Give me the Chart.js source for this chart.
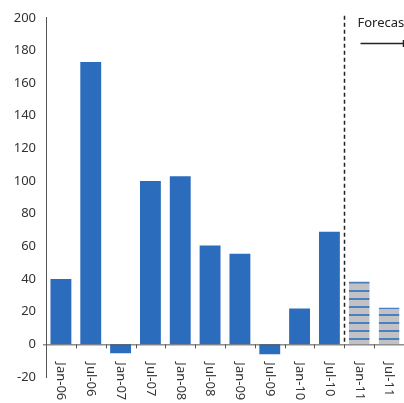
<!DOCTYPE html>
<html>
<head>
<meta charset="utf-8">
<script src="https://cdn.jsdelivr.net/npm/chart.js@4.4.1/dist/chart.umd.min.js"></script>
<style>
  html, body { margin: 0; padding: 0; background: #fff; }
  #wrap { width: 404px; height: 403px; }
</style>
</head>
<body>
<div id="wrap"><canvas id="chart" width="404" height="403"></canvas></div>
<script>
// Half-yearly values, last two are forecasts
var periods = ['Jan-06', 'Jul-06', 'Jan-07', 'Jul-07', 'Jan-08', 'Jul-08', 'Jan-09', 'Jul-09', 'Jan-10', 'Jul-10', 'Jan-11', 'Jul-11'];
var values = [40, 173, -5.5, 100, 103, 60.5, 55.5, -6, 22, 69, 38.5, 22.5];
var forecastStart = 10; // index of the first forecast period
var yTicks = [200, 180, 160, 140, 120, 100, 80, 60, 40, 20, 0, -20];
var forecastLabel = 'Forecast';

var FONT = '"Noto Sans", "Open Sans", sans-serif';
var BLUE = '#2b6cbd';
var AXIS = '#555555';

// gray fill with thin blue horizontal stripes for forecast bars
function stripePattern() {
    var c = document.createElement('canvas');
    c.width = 8; c.height = 8;
    var g = c.getContext('2d');
    g.fillStyle = '#c2c2c2';
    g.fillRect(0, 0, 8, 8);
    g.fillStyle = '#4a7fc6';
    g.fillRect(0, 2, 8, 2);
    return g.createPattern(c, 'repeat');
}

var ctx = document.getElementById('chart').getContext('2d');
var pattern = stripePattern();

var barColors = values.map(function (v, i) { return i >= forecastStart ? pattern : BLUE; });
var barBorders = values.map(function (v, i) { return i >= forecastStart ? '#4a7fc6' : BLUE; });
var barBorderWidths = values.map(function (v, i) {
    return i >= forecastStart ? { top: 2, left: 0, right: 0, bottom: 0 } : 0;
});

// x axis at zero, rotated period labels, forecast divider and caption
var overlay = {
    id: 'overlay',
    afterDatasetsDraw: function (chart) {
        var c = chart.ctx;
        var xs = chart.scales.x;
        var ys = chart.scales.y;
        var area = chart.chartArea;
        var y0 = ys.getPixelForValue(0);
        var step = xs.getPixelForValue(1) - xs.getPixelForValue(0);

        c.save();
        // axis line through zero
        c.strokeStyle = AXIS;
        c.lineWidth = 1;
        c.beginPath();
        c.moveTo(area.left - 3, y0 + 0.5);
        c.lineTo(area.right, y0 + 0.5);
        c.stroke();

        // tick marks between categories
        c.beginPath();
        for (var i = 1; i <= periods.length; i++) {
            var tx = Math.round(xs.getPixelForValue(i) - step / 2) + 0.5;
            c.moveTo(tx, y0);
            c.lineTo(tx, y0 + 4);
        }
        c.stroke();

        // period labels, reading downward
        c.fillStyle = '#333333';
        c.font = '13px ' + FONT;
        c.textAlign = 'left';
        c.textBaseline = 'middle';
        periods.forEach(function (p, i) {
            c.save();
            c.translate(xs.getPixelForValue(i), y0 + 18);
            c.rotate(Math.PI / 2);
            c.fillText(p, 0, 0);
            c.restore();
        });

        // dashed divider before the forecast periods
        var dx = Math.round(xs.getPixelForValue(forecastStart) - step / 2) + 0.5;
        c.strokeStyle = '#222222';
        c.lineWidth = 1.5;
        c.setLineDash([4, 3]);
        c.beginPath();
        c.moveTo(dx, area.top - 2);
        c.lineTo(dx, y0);
        c.stroke();
        c.setLineDash([]);

        // caption with arrow
        c.fillStyle = '#222222';
        c.font = '13px ' + FONT;
        c.textBaseline = 'alphabetic';
        c.fillText(forecastLabel, dx + 13, 27);
        c.lineWidth = 1.5;
        c.beginPath();
        c.moveTo(dx + 16, 43.5);
        c.lineTo(dx + 80, 43.5);
        c.moveTo(dx + 59, 40);
        c.lineTo(dx + 59, 47);
        c.stroke();
        c.restore();
    }
};

new Chart(ctx, {
    type: 'bar',
    data: {
        labels: periods,
        datasets: [{
            data: values,
            backgroundColor: barColors,
            borderColor: barBorders,
            borderWidth: barBorderWidths,
            borderSkipped: false,
            barPercentage: 0.7,
            categoryPercentage: 1.0
        }]
    },
    options: {
        responsive: false,
        animation: false,
        layout: { padding: { top: 17, bottom: 26, left: 0, right: 0 } },
        scales: {
            x: {
                display: false
            },
            y: {
                min: -20,
                max: 200,
                afterBuildTicks: function (axis) {
                    axis.ticks = yTicks.map(function (v) { return { value: v }; });
                },
                afterFit: function (axis) { axis.width = 46; },
                grid: { display: false, drawTicks: false },
                border: { display: true, color: AXIS, width: 1 },
                ticks: {
                    padding: 10,
                    color: '#333333',
                    font: { family: FONT, size: 13 }
                }
            }
        },
        plugins: {
            legend: { display: false },
            tooltip: { enabled: false }
        }
    },
    plugins: [overlay]
});
</script>
</body>
</html>
